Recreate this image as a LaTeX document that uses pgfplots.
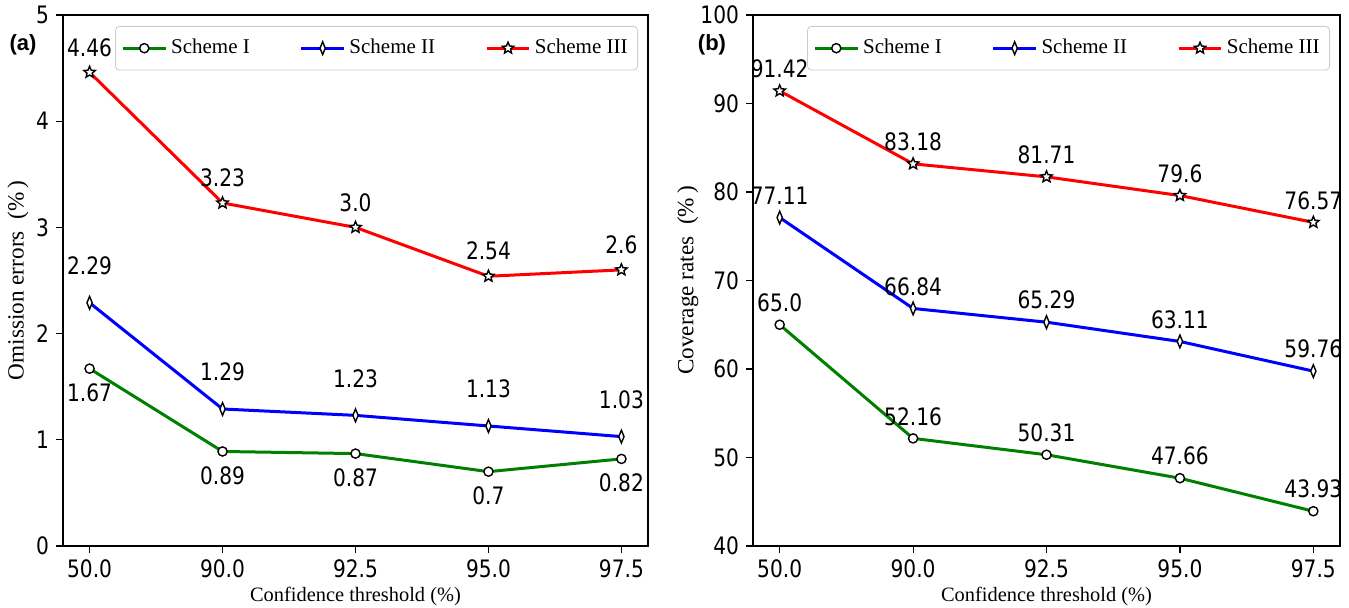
\documentclass[border=0pt]{standalone}
\usepackage{pgfplots}
\pgfplotsset{compat=1.18}
\usepackage{fontspec}
\setmainfont{Liberation Serif}
\setsansfont{Liberation Sans}
\newfontfamily\numfont[FakeStretch=0.84]{DejaVu Sans}

\definecolor{mplgreen}{RGB}{0,128,0}
\definecolor{mplblue}{RGB}{0,0,255}
\definecolor{mplred}{RGB}{255,0,0}

% hollow five-point star
\pgfdeclareplotmark{hstar}{%
  \pgfpathmoveto{\pgfpointpolar{90}{\pgfplotmarksize}}%
  \pgfpathlineto{\pgfpointpolar{126}{0.45\pgfplotmarksize}}%
  \pgfpathlineto{\pgfpointpolar{162}{\pgfplotmarksize}}%
  \pgfpathlineto{\pgfpointpolar{198}{0.45\pgfplotmarksize}}%
  \pgfpathlineto{\pgfpointpolar{234}{\pgfplotmarksize}}%
  \pgfpathlineto{\pgfpointpolar{270}{0.45\pgfplotmarksize}}%
  \pgfpathlineto{\pgfpointpolar{306}{\pgfplotmarksize}}%
  \pgfpathlineto{\pgfpointpolar{342}{0.45\pgfplotmarksize}}%
  \pgfpathlineto{\pgfpointpolar{18}{\pgfplotmarksize}}%
  \pgfpathlineto{\pgfpointpolar{54}{0.45\pgfplotmarksize}}%
  \pgfpathclose
  \pgfusepathqfillstroke}

\pgfplotsset{
  panel/.style={
    scale only axis, height=265.5pt,
    xmin=-0.2, xmax=4.2,
    xtick={0,...,4}, xticklabels={50.0,90.0,92.5,95.0,97.5},
    tick align=outside, tick pos=left, major tick length=3.5pt,
    tick style={black, line width=0.6pt},
    axis line style={line width=0.7pt},
    /pgf/number format/assume math mode=true,
    tick label style={font=\numfont\fontsize{12}{14}\selectfont},
    x label style={font=\fontsize{10.2}{12}\selectfont,
      at={(axis description cs:0.5,-0.096)}, anchor=center},
    y label style={font=\fontsize{11.6}{13}\selectfont},
    xlabel={Confidence threshold (\%)},
    legend columns=3, legend cell align=left,
    legend image code/.code={%
      \draw[mark repeat=2, mark phase=2] plot coordinates {(0cm,0cm) (0.375cm,0cm) (0.75cm,0cm)};},
    legend style={at={(1,1)}, anchor=north east, xshift=-5pt, yshift=-5.5pt,
      draw=black!20, rounded corners=2pt, font=\fontsize{10.5}{12}\selectfont,
      inner xsep=3pt, inner ysep=4.5pt,
      /tikz/column 2/.style={column sep=23pt},
      /tikz/column 4/.style={column sep=23pt}},
    nodes near coords, point meta=explicit symbolic,
    every node near coord/.append style={font=\numfont\fontsize{12}{14}\selectfont,
      anchor=center, text=black},
  },
  s1/.style={mplgreen, line width=1.5pt, mark=*, mark size=2.3pt,
    mark options={fill=white, draw=black, line width=0.7pt}},
  s2/.style={mplblue, line width=1.5pt, mark=diamond*, mark size=3.2pt,
    mark options={fill=white, draw=black, line width=0.7pt, xscale=0.55}},
  s3/.style={mplred, line width=1.5pt, mark=hstar, mark size=3pt,
    mark options={fill=white, draw=black, line width=0.7pt}},
}

\begin{document}
\begin{tikzpicture}
\path[use as bounding box] (0,0) rectangle (674.5pt,304pt);

% (a) omission errors
\begin{axis}[panel, at={(31.5pt,31pt)}, anchor=south west, width=292.5pt,
    ymin=0, ymax=5, ytick={0,1,2,3,4,5},
    ylabel={Omission errors\ \ (\%\,)},
    y label style={at={(axis description cs:-0.077,0.5)}, anchor=center}]
  \addplot[s1, every node near coord/.append style={yshift=-12pt}] coordinates
    {(0,1.67)[1.67] (1,0.89)[0.89] (2,0.87)[0.87] (3,0.7)[0.7] (4,0.82)[0.82]};
  \addplot[s2, every node near coord/.append style={yshift=18.5pt}] coordinates
    {(0,2.29)[2.29] (1,1.29)[1.29] (2,1.23)[1.23] (3,1.13)[1.13] (4,1.03)[1.03]};
  \addplot[s3, every node near coord/.append style={yshift=12.5pt}] coordinates
    {(0,4.46)[4.46] (1,3.23)[3.23] (2,3.0)[3.0] (3,2.54)[2.54] (4,2.6)[2.6]};
  \legend{Scheme I, Scheme II, Scheme III}
\end{axis}
\node[font=\sffamily\bfseries\fontsize{11}{13}\selectfont] at (11.5pt,281.5pt) {(a)};

% (b) coverage rates
\begin{axis}[panel, at={(376.5pt,31pt)}, anchor=south west, width=293.5pt,
    ymin=40, ymax=100, ytick={40,50,...,100},
    ylabel={Coverage rates\ \ (\%\,)},
    y label style={at={(axis description cs:-0.111,0.5)}, anchor=center},
    every node near coord/.append style={yshift=11pt}]
  \addplot[s1] coordinates
    {(0,65.0)[65.0] (1,52.16)[52.16] (2,50.31)[50.31] (3,47.66)[47.66] (4,43.93)[43.93]};
  \addplot[s2] coordinates
    {(0,77.11)[77.11] (1,66.84)[66.84] (2,65.29)[65.29] (3,63.11)[63.11] (4,59.76)[59.76]};
  \addplot[s3] coordinates
    {(0,91.42)[91.42] (1,83.18)[83.18] (2,81.71)[81.71] (3,79.6)[79.6] (4,76.57)[76.57]};
  \legend{Scheme I, Scheme II, Scheme III}
\end{axis}
\node[font=\sffamily\bfseries\fontsize{11}{13}\selectfont] at (356pt,281.5pt) {(b)};
\end{tikzpicture}
\end{document}
